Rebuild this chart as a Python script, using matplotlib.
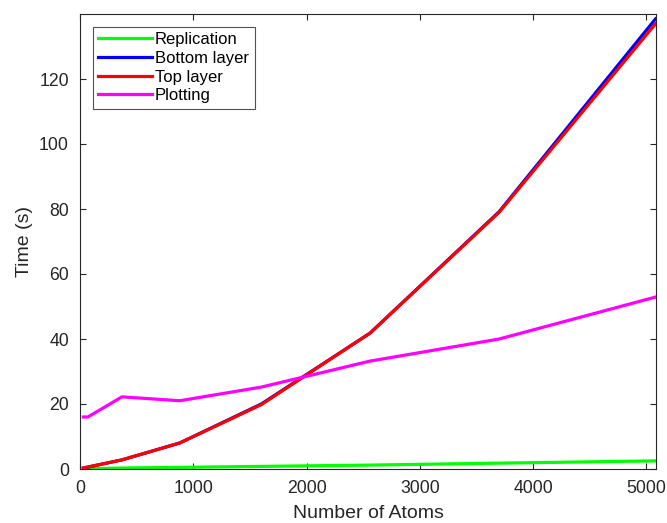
import matplotlib
matplotlib.use("Agg")
import matplotlib.pyplot as plt

# --- data ---
atoms = [30, 70, 370, 880, 1600, 2560, 3700, 5080]
replication = [0.05, 0.1, 0.3, 0.5, 0.8, 1.2, 1.8, 2.5]
bottom_layer = [0.3, 0.6, 2.8, 8.0, 20.0, 41.8, 79.2, 138.5]
top_layer = [0.3, 0.6, 2.8, 8.0, 19.8, 41.8, 79.0, 137.0]
plotting = [16.0, 16.0, 22.2, 21.0, 25.2, 33.2, 40.0, 52.9]

x_ticks = [0, 1000, 2000, 3000, 4000, 5000]
y_ticks = [0, 20, 40, 60, 80, 100, 120]

plt.rcParams['font.family'] = ['Liberation Sans', 'DejaVu Sans']

fig = plt.figure(figsize=(6.67, 5.23), dpi=100)
ax = fig.add_axes([80 / 667, 1 - 469 / 523, (656 - 80) / 667, (469 - 14) / 523])

lw = 2.3
ax.plot(atoms, replication, color='#00ff00', lw=lw, label='Replication')
ax.plot(atoms, bottom_layer, color='#0000ff', lw=lw, label='Bottom layer')
ax.plot(atoms, top_layer, color='#ff0000', lw=lw, label='Top layer')
ax.plot(atoms, plotting, color='#ff00ff', lw=lw, label='Plotting')

ax.set_xlim(0, 5084)
ax.set_ylim(0, 140)
ax.set_xticks(x_ticks)
ax.set_yticks(y_ticks)
ax.tick_params(direction='in', top=True, right=True, labelsize=12.7,
               colors='#262626', length=4, pad=8)
for s in ax.spines.values():
    s.set_color('#262626')
    s.set_linewidth(0.8)

ax.set_xlabel('Number of Atoms', fontsize=14, color='#262626', labelpad=6)
ax.set_ylabel('Time (s)', fontsize=14, color='#262626', labelpad=4)

leg = ax.legend(loc='upper left', fontsize=12, frameon=True, fancybox=False,
                edgecolor='#262626', borderaxespad=0.75, handlelength=3.2,
                handletextpad=0.2, labelspacing=0.22, borderpad=0.35)
leg.get_frame().set_linewidth(0.8)

fig.savefig('out.png', dpi=100)
